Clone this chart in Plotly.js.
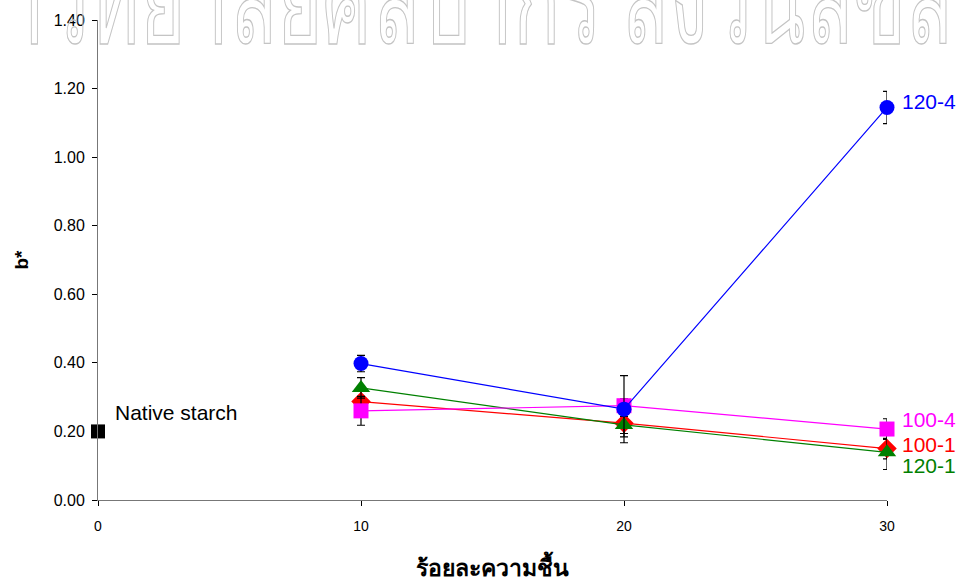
<!DOCTYPE html>
<html>
<head>
<meta charset="utf-8">
<script src="https://cdn.plot.ly/plotly-3.0.1.min.js"></script>
<style>
  html, body { margin: 0; padding: 0; background: #fff; }
  #chart { width: 960px; height: 582px; }
  .annotation[data-index="0"] .annotation-text {
    stroke: #c4c4c4; stroke-width: 1.4px; fill: none !important;
  }
</style>
</head>
<body>
<div id="chart"></div>
<script>
// ---- data ----
const moisture = [10, 20, 30];
const seriesNames = ["100-1", "120-1", "100-4", "120-4"];
const b_100_1 = [0.287, 0.224, 0.150];
const e_100_1 = [0.030, 0.040, 0.030];
const b_120_1 = [0.327, 0.219, 0.139];
const e_120_1 = [0.030, 0.025, 0.050];
const b_100_4 = [0.260, 0.275, 0.207];
const e_100_4 = [0.042, 0.020, 0.030];
const b_120_4 = [0.398, 0.265, 1.145];
const e_120_4 = [0.024, 0.098, 0.047];
const nativeX = [0];
const nativeY = [0.20];
const nativeLabel = "Native starch";
const yTicks = [0, 0.2, 0.4, 0.6, 0.8, 1.0, 1.2, 1.4];
const xTicks = [0, 10, 20, 30];
const watermark = "มหาวิทยาลัยศิลปากร สงวนลิขสิทธิ์";

const colors = {"100-1": "#ff0000", "120-1": "#008000", "100-4": "#ff00ff", "120-4": "#0000ff"};
const symbols = {"100-1": "diamond", "120-1": "triangle-up", "100-4": "square", "120-4": "circle"};
const sizes = {"100-1": 15, "120-1": 16, "100-4": 15, "120-4": 15};
const vals = {"100-1": b_100_1, "120-1": b_120_1, "100-4": b_100_4, "120-4": b_120_4};
const errs = {"100-1": e_100_1, "120-1": e_120_1, "100-4": e_100_4, "120-4": e_120_4};

const traces = seriesNames.map(n => ({
  x: moisture, y: vals[n], type: "scatter", mode: "lines+markers", name: n,
  line: {color: colors[n], width: 1.2},
  marker: {symbol: symbols[n], size: sizes[n], color: colors[n], line: {width: 0}},
  error_y: {type: "data", array: errs[n], visible: true, color: "#000", thickness: 1.2, width: 4},
  cliponaxis: false, showlegend: false, hoverinfo: "x+y"
}));
traces.push({
  x: nativeX, y: nativeY, type: "scatter", mode: "markers", name: nativeLabel,
  marker: {symbol: "square", size: 14, color: "#000"}, cliponaxis: false, showlegend: false
});

const WM_SIZE = 120;
const annotations = [{
  text: watermark, xref: "paper", yref: "paper", x: 0.484, y: 1.048,
  xanchor: "center", yanchor: "middle", showarrow: false,
  font: {family: "Noto Sans, DejaVu Sans, sans-serif", size: WM_SIZE, color: "rgba(0,0,0,0)"}
}, {
  text: nativeLabel, xref: "x", yref: "y", x: nativeX[0], y: nativeY[0],
  xanchor: "left", yanchor: "middle", xshift: 15, yshift: 19, showarrow: false,
  font: {family: "Liberation Sans, Arial, sans-serif", size: 21, color: "#000"}
}];
const labelShift = {"120-4": 6, "100-4": 10, "100-1": 4, "120-1": -13};
seriesNames.forEach(n => {
  annotations.push({
    text: n, xref: "x", yref: "y", x: moisture[2], y: vals[n][2],
    xanchor: "left", yanchor: "middle", xshift: 13, yshift: labelShift[n], showarrow: false,
    font: {family: "Liberation Sans, Arial, sans-serif", size: 21, color: colors[n]}
  });
});

const layout = {
  width: 960, height: 582,
  margin: {l: 98, r: 73, t: 20, b: 82},
  paper_bgcolor: "#fff", plot_bgcolor: "#fff",
  font: {family: "Liberation Sans, Arial, sans-serif", size: 15, color: "#000"},
  xaxis: {
    range: [0, 30], tickvals: xTicks, ticks: "outside", ticklen: 5, tickcolor: "#000",
    showline: true, linecolor: "#777", linewidth: 1, showgrid: false, zeroline: false,
    tickfont: {size: 14}, ticklabelstandoff: 8,
    title: {text: "<b>ร้อยละความชื้น</b>", font: {size: 23}, standoff: 27}
  },
  yaxis: {
    range: [0, 1.4], tickvals: yTicks, tickformat: ".2f", ticks: "outside", ticklen: 5, tickcolor: "#000",
    showline: true, linecolor: "#777", linewidth: 1, showgrid: false, zeroline: false,
    tickfont: {size: 16}, ticklabelstandoff: 4,
    title: {text: "<b>b*</b>", font: {size: 19}, standoff: 20}
  },
  annotations: annotations
};
Plotly.newPlot("chart", traces, layout, {staticPlot: true}).then(gd => {
  // condense the watermark glyphs horizontally (tall, narrow display lettering)
  const t = gd.querySelector('.annotation[data-index="0"] .annotation-text');
  if (t && t.getComputedTextLength) {
    const w = t.getComputedTextLength();
    t.setAttribute("textLength", (w * 78 / WM_SIZE).toFixed(1));
    t.setAttribute("lengthAdjust", "spacingAndGlyphs");
  }
});
</script>
</body>
</html>
